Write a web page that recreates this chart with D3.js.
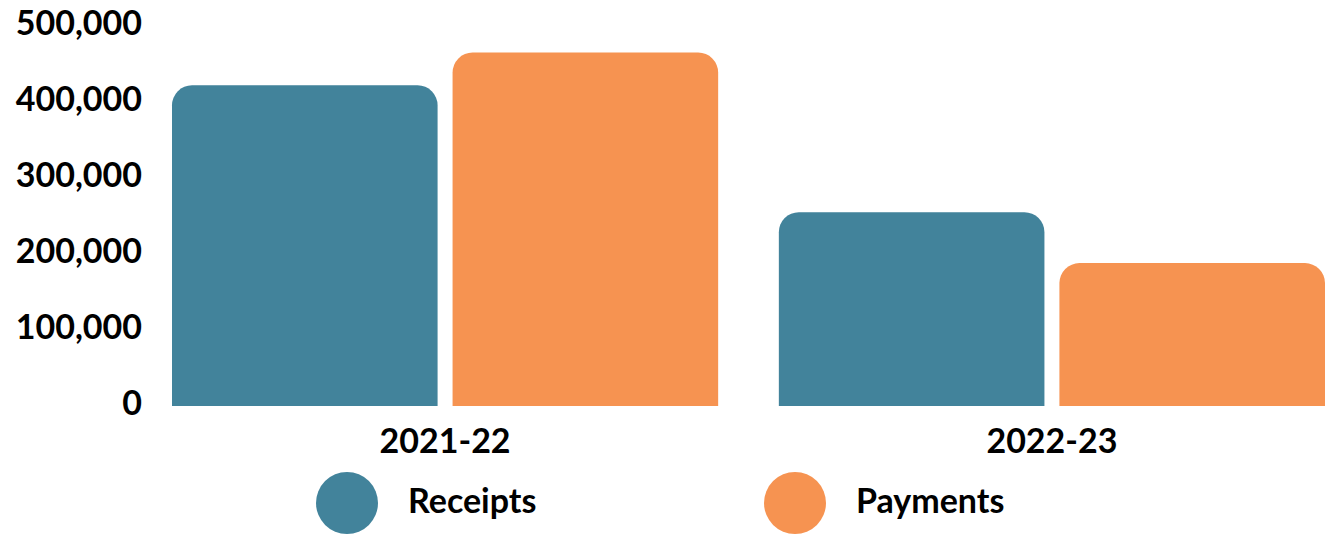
<!DOCTYPE html>
<html>
<head>
<meta charset="utf-8">
<script src="https://cdn.jsdelivr.net/npm/d3@7"></script>
<style>
  body { margin: 0; background: #fff; }
  text { font-family: Lato, "Noto Sans", sans-serif; font-weight: 700; fill: #000; }
</style>
</head>
<body>
<div id="chart"></div>
<script>
const categories = ["2021-22", "2022-23"]
const seriesNames = ["Receipts", "Payments"]
const receipts = [422000, 255000]
const payments = [465000, 188000]
const yTicks = [0, 100000, 200000, 300000, 400000, 500000]
const colors = ["#42839B", "#F69351"]

var width = 1335, height = 535;
const seriesValues = [receipts, payments]

const svg = d3.select("#chart")
  .append("svg")
  .attr("width", width)
  .attr("height", height)

const x = d3.scaleBand()
  .domain(categories)
  .range([172, 1325])
  .paddingInner(0.1)
  .paddingOuter(0)

const xInner = d3.scaleBand()
  .domain(seriesNames)
  .range([0, x.bandwidth()])
  .paddingInner(0.0534)

const y = d3.scaleLinear()
  .domain([0, 500000])
  .range([406, 26])

// y axis labels only, no lines
const yAxis = d3.axisLeft(y)
  .tickValues(yTicks)
  .tickFormat(d3.format(","))
  .tickSize(0)
  .tickPadding(0)

svg.append("g")
  .attr("transform", "translate(142, 0)")
  .call(yAxis)
  .call(g => g.select(".domain").remove())
  .selectAll("text")
  .style("font-family", "Lato, 'Noto Sans', sans-serif")
  .style("font-weight", 700)
  .style("font-size", "34px")
  .attr("fill", "#000")
  .attr("dy", "0.26em")

// bars with rounded top corners
function topRounded(x0, y0, w, h, r) {
  r = Math.min(r, h, w / 2)
  return "M" + x0 + "," + (y0 + h) +
    "V" + (y0 + r) +
    "A" + r + "," + r + " 0 0 1 " + (x0 + r) + "," + y0 +
    "H" + (x0 + w - r) +
    "A" + r + "," + r + " 0 0 1 " + (x0 + w) + "," + (y0 + r) +
    "V" + (y0 + h) + "Z"
}

const barData = []
categories.forEach(function(c, i) {
  seriesNames.forEach(function(s, j) {
    barData.push({ cat: c, series: s, value: seriesValues[j][i], color: colors[j] })
  })
})

svg.selectAll("path.bar")
  .data(barData)
  .join("path")
  .attr("class", "bar")
  .attr("d", function(d) {
    const bx = x(d.cat) + xInner(d.series)
    return topRounded(bx, y(d.value), xInner.bandwidth(), y(0) - y(d.value), 20)
  })
  .attr("fill", d => d.color)

// category labels
const xAxis = d3.axisBottom(x).tickSize(0).tickPadding(0)
svg.append("g")
  .attr("transform", "translate(0, 441)")
  .call(xAxis)
  .call(g => g.select(".domain").remove())
  .selectAll("text")
  .style("font-family", "Lato, 'Noto Sans', sans-serif")
  .style("font-weight", 700)
  .style("font-size", "34px")
  .attr("fill", "#000")
  .attr("y", 0)
  .attr("dy", "0.35em")

// legend
const legendX = [347, 795]
const legend = svg.selectAll("g.legend")
  .data(seriesNames)
  .join("g")
  .attr("class", "legend")
  .attr("transform", (d, i) => "translate(" + legendX[i] + ", 503)")

legend.append("circle")
  .attr("r", 31)
  .attr("fill", (d, i) => colors[i])

legend.append("text")
  .attr("x", 61)
  .attr("dy", "0.3em")
  .style("font-size", "34px")
  .text(d => d)
</script>
</body>
</html>
